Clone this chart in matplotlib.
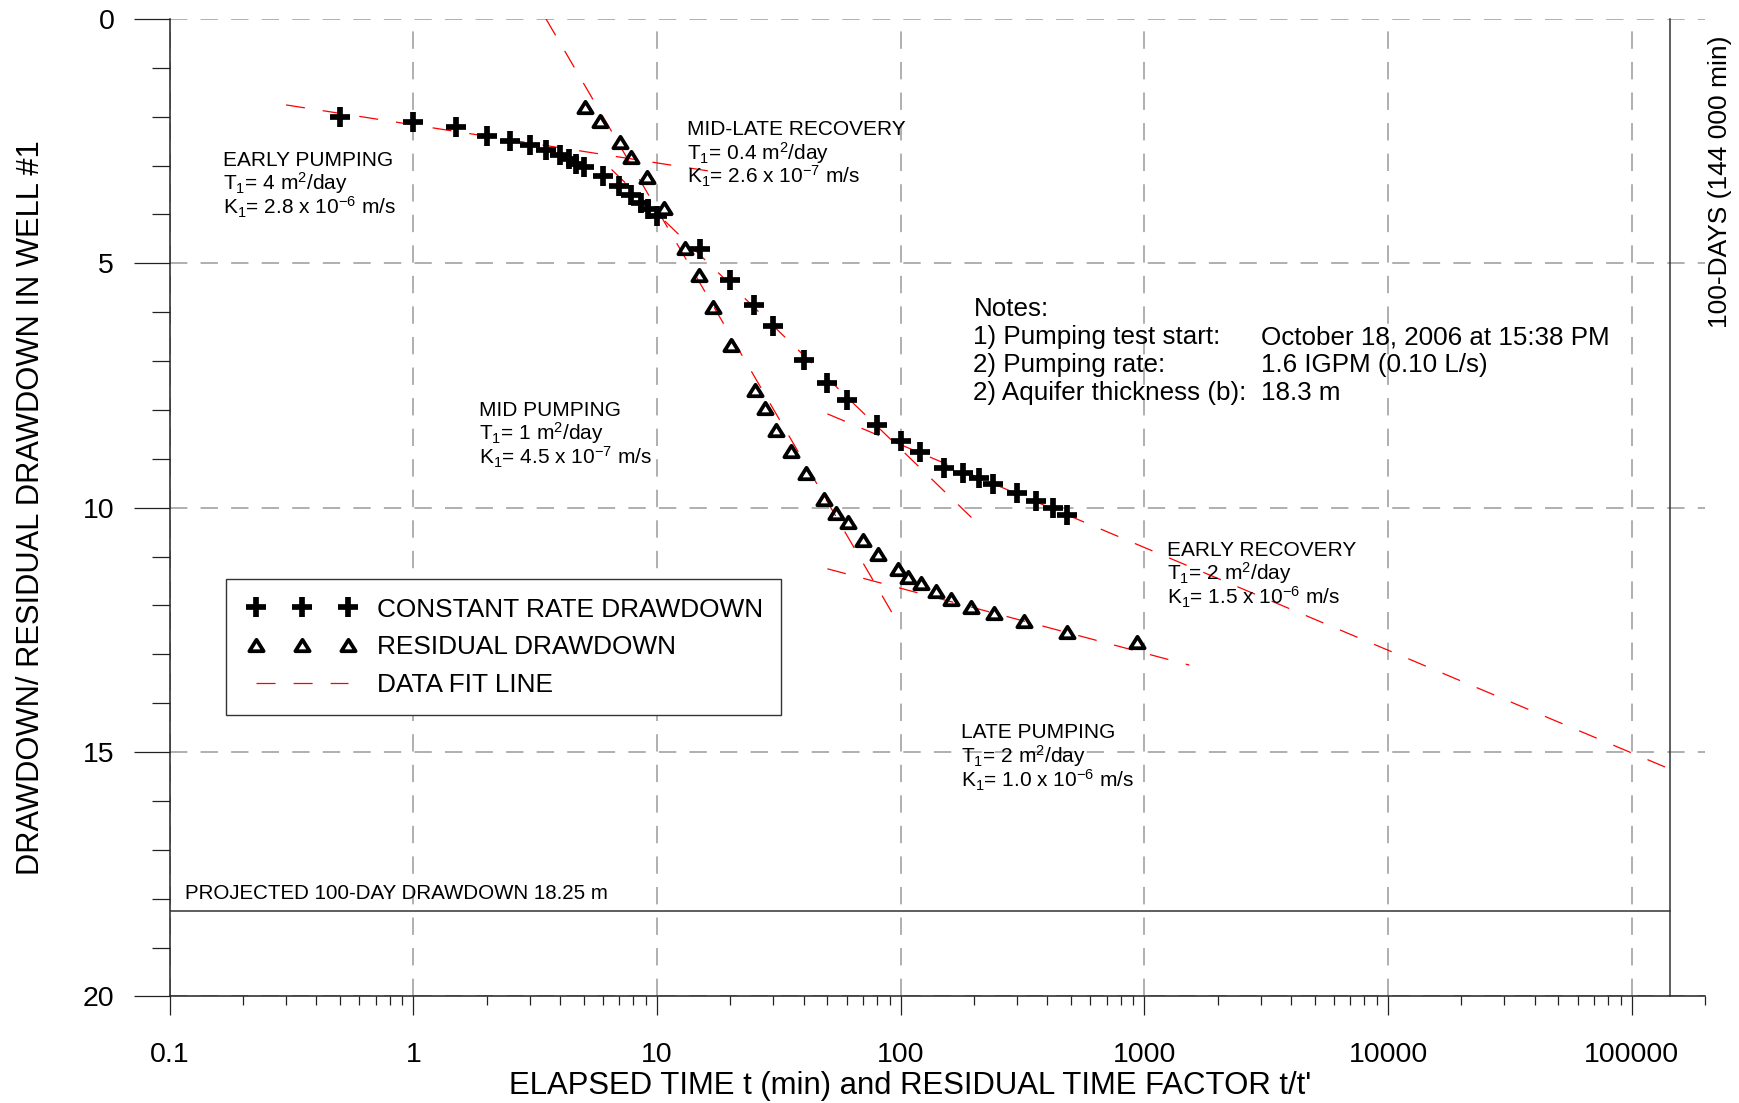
import numpy as np
import matplotlib
matplotlib.use("Agg")
import matplotlib.pyplot as plt
from matplotlib.ticker import LogLocator, MultipleLocator, NullFormatter
from matplotlib.lines import Line2D
from matplotlib.markers import MarkerStyle
from matplotlib.path import Path
from matplotlib.legend_handler import HandlerLine2D

plt.rcParams['font.family'] = ['Liberation Sans', 'DejaVu Sans']
plt.rcParams['mathtext.fontset'] = 'custom'
plt.rcParams['mathtext.rm'] = 'Liberation Sans'
plt.rcParams['mathtext.it'] = 'Liberation Sans:italic'
plt.rcParams['mathtext.bf'] = 'Liberation Sans:bold'
plt.rcParams['mathtext.default'] = 'regular'
plt.rcParams['lines.scale_dashes'] = False

# ---- constant rate drawdown (elapsed time t, min / drawdown, m) ----
t_pump = [0.5, 1, 1.5, 2, 2.5, 3, 3.5, 4, 4.35, 4.65, 5, 6, 7, 7.8, 8.6, 9.2, 10,
          15, 20, 25, 30, 40, 50, 60, 80, 100, 120, 150, 180, 210, 240, 300,
          360, 420, 480]
s_pump = [2.01, 2.11, 2.22, 2.39, 2.50, 2.58, 2.68, 2.78, 2.87, 2.97, 3.04, 3.22,
          3.41, 3.60, 3.76, 3.88, 4.03, 4.71, 5.34, 5.85, 6.29, 6.98, 7.45, 7.79,
          8.30, 8.64, 8.87, 9.19, 9.29, 9.39, 9.51, 9.69, 9.87, 10.01, 10.15]

# ---- residual drawdown (residual time factor t/t' / residual drawdown, m) ----
t_res = [5.06, 5.82, 7.04, 7.85, 9.05, 10.7, 13.0, 14.8, 17.0, 20.2, 25.2, 27.7,
         30.9, 35.6, 41.0, 48.6, 54, 61, 70, 81, 97, 107, 121, 139, 161, 194,
         242, 321, 483, 930]
s_res = [1.80, 2.08, 2.51, 2.82, 3.24, 3.87, 4.69, 5.24, 5.90, 6.67, 7.59, 7.96,
         8.41, 8.84, 9.29, 9.83, 10.10, 10.30, 10.66, 10.94, 11.26, 11.41, 11.55,
         11.71, 11.87, 12.03, 12.16, 12.32, 12.55, 12.74]

# ---- straight-line fits (start/end on the semi-log plot) ----
fit_t0 = [0.30, 3.5, 6.5, 50, 50]
fit_t1 = [16.7, 98, 195, 144000, 1530]
fit_s0 = [1.76, 0.0, 3.08, 8.08, 11.25]
fit_s1 = [3.12, 12.38, 10.20, 15.35, 13.22]

# ---- reference values ----
t_100day = 144000
proj_dd = 18.25

x_major = [0.1, 1, 10, 100, 1000, 10000, 100000]
x_labels = ['0.1', '1', '10', '100', '1000', '10000', '100000']
y_major = [0, 5, 10, 15, 20]
y_labels = ['0', '5', '10', '15', '20']

legend_labels = ['CONSTANT RATE DRAWDOWN', 'RESIDUAL DRAWDOWN', 'DATA FIT LINE']

# interpretation blocks: (x, first baseline, lines)
blocks = [
    (0.165, 3.00, ['EARLY PUMPING', r'T$_1$= 4 m$^2$/day', r'K$_1$= 2.8 x 10$^{-6}$ m/s']),
    (13.3, 2.375, ['MID-LATE RECOVERY', r'T$_1$= 0.4 m$^2$/day', r'K$_1$= 2.6 x 10$^{-7}$ m/s']),
    (1.86, 8.12, ['MID PUMPING', r'T$_1$= 1 m$^2$/day', r'K$_1$= 4.5 x 10$^{-7}$ m/s']),
    (1239, 10.98, ['EARLY RECOVERY', r'T$_1$= 2 m$^2$/day', r'K$_1$= 1.5 x 10$^{-6}$ m/s']),
    (176.6, 14.72, ['LATE PUMPING', r'T$_1$= 2 m$^2$/day', r'K$_1$= 1.0 x 10$^{-6}$ m/s']),
]

notes_left = ['Notes:', '1) Pumping test start:', '2) Pumping rate:', '2) Aquifer thickness (b):']
notes_right = ['', 'October 18, 2006 at 15:38 PM', '1.6 IGPM (0.10 L/s)', '18.3 m']
notes_baselines = [6.076, 6.659, 7.221, 7.800]

# ---- figure ----
fig = plt.figure(figsize=(17.4, 11.03), dpi=100)
ax = fig.add_axes([0.09759, 0.09656, 0.8823, 0.88631])
ax.set_xscale('log')
ax.set_xlim(0.1, 2e5)
ax.set_ylim(20, 0)

axis_col = '#222222'
for side in ['top', 'right']:
    ax.spines[side].set_visible(False)
for side in ['left', 'bottom']:
    ax.spines[side].set_color(axis_col)
    ax.spines[side].set_linewidth(1.1)

ax.set_xticks(x_major)
ax.set_xticklabels(x_labels)
ax.xaxis.set_minor_locator(LogLocator(base=10, subs=np.arange(2, 10), numticks=30))
ax.xaxis.set_minor_formatter(NullFormatter())
ax.set_yticks(y_major)
ax.set_yticklabels(y_labels)
ax.yaxis.set_minor_locator(MultipleLocator(1))

ax.tick_params(axis='x', which='major', direction='out', length=13.7, width=0.9,
               pad=19, labelsize=20.5, color=axis_col)
ax.tick_params(axis='x', which='minor', direction='out', length=6.5, width=0.9, color=axis_col)
ax.tick_params(axis='y', which='major', direction='out', length=26, width=0.9,
               pad=14, labelsize=20.5, color=axis_col)
ax.tick_params(axis='y', which='minor', direction='out', length=13.3, width=0.9, color=axis_col)

ax.set_axisbelow(True)
ax.grid(True, which='major', color='#9a9a9a', linewidth=1.1, linestyle=(0, (12.5, 9.5)))

# fit lines
fit_style = dict(color='red', lw=0.9, linestyle=(0, (13.7, 13.0)), zorder=2)
for a, b, c, d in zip(fit_t0, fit_t1, fit_s0, fit_s1):
    ax.plot([a, b], [c, d], **fit_style)

# markers
tri = MarkerStyle(Path([(-1, -0.8), (1, -0.8), (0, 0.8), (-1, -0.8)], closed=True),
                  joinstyle='miter')
cross_kw = dict(ls='none', marker='+', ms=14.3, mew=4.1, color='black')
tri_kw = dict(ls='none', marker=tri, ms=10.3, mew=2.7, mec='black', mfc='none')
ax.plot(t_pump, s_pump, zorder=4, **cross_kw)
ax.plot(t_res, s_res, zorder=4, **tri_kw)

# 100-day reference lines
ax.plot([0.1, t_100day], [proj_dd, proj_dd], color='#333333', lw=1.1, zorder=3)
ax.plot([t_100day, t_100day], [0, 20], color='#333333', lw=1.1, zorder=3, clip_on=False)
ax.text(0.1152, 18.0, 'PROJECTED 100-DAY DRAWDOWN 18.25 m', fontsize=14.8,
        ha='left', va='baseline')
fig.text(1720 / 1740, 1 - 182 / 1103, '100-DAYS (144 000 min)', rotation=90,
         fontsize=19, ha='center', va='center')

# interpretation labels
for x, y0, lines in blocks:
    for i, s in enumerate(lines):
        ax.text(x, y0 + 0.5 * i, s, fontsize=15, ha='left', va='baseline')

# notes
for s, v, y in zip(notes_left, notes_right, notes_baselines):
    ax.text(198.7, y, s, fontsize=18.7, ha='left', va='baseline')
    if v:
        ax.text(3020, y, v, fontsize=18.7, ha='left', va='baseline')

# axis labels
ax.set_xlabel("ELAPSED TIME t (min) and RESIDUAL TIME FACTOR t/t'", fontsize=22.4)
ax.xaxis.set_label_coords(0.482, -0.0997)
ax.xaxis.label.set_va('baseline')
ax.set_ylabel('DRAWDOWN/ RESIDUAL DRAWDOWN IN WELL #1', fontsize=22.2)
ax.yaxis.set_label_coords(-0.0905, 0.5)
ax.yaxis.label.set_va('center')

# legend
h_cross = Line2D([], [], **cross_kw)
h_tri = Line2D([], [], **tri_kw)
h_fit = Line2D([], [], color='red', lw=0.9, linestyle=(0, (13.7, 13.0)))
leg = ax.legend([h_cross, h_tri, h_fit], legend_labels, loc='upper left',
                bbox_to_anchor=(0.0369, 0.4268), borderaxespad=0, numpoints=3,
                handlelength=4.35, handletextpad=0.68, labelspacing=0.52,
                borderpad=0.7, fontsize=18.9, frameon=True, fancybox=False,
                framealpha=1, edgecolor='#333333',
                handler_map={Line2D: HandlerLine2D(numpoints=3, marker_pad=0.41)})
leg.get_frame().set_linewidth(1.0)
leg.set_zorder(5)

fig.savefig('out.png', dpi=100)
